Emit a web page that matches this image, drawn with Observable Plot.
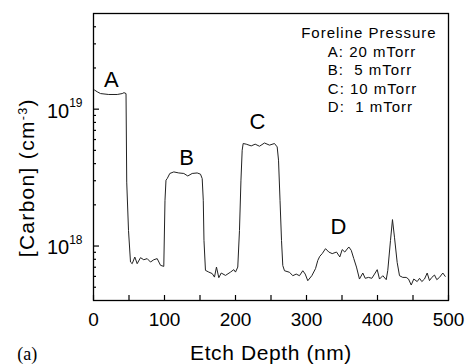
<!DOCTYPE html>
<html>
<head>
<meta charset="utf-8">
<script src="https://cdn.jsdelivr.net/npm/d3@7"></script>
<script src="https://cdn.jsdelivr.net/npm/@observablehq/plot@0.6"></script>
<style>
  html, body { margin: 0; padding: 0; background: #fff; }
  .legend text { letter-spacing: 1px; }
  .ylabel text { letter-spacing: 1.3px; }
  .xlabel text { letter-spacing: 0.6px; }
</style>
</head>
<body>
<div id="chart"></div>
<script>
// SIMS carbon depth profile: etch depth (nm) and carbon concentration (cm^-3)
const depth = [
  1.4, 5.2, 9.9, 21.5, 33.4, 40.4, 43.0, 45.8, 46.8, 49.3,
  52.1, 54.5, 58.2, 61.5, 66.2, 70.8, 75.6, 80.3, 84.9, 89.7,
  94.4, 99.0, 100.7, 102.1, 103.8, 107.5, 113.1, 120.1, 127.2, 132.8,
  139.0, 146.0, 150.7, 153.1, 154.6, 155.6, 157.7, 162.4, 167.2, 170.4,
  173.2, 176.5, 179.9, 185.9, 193.0, 197.6, 200.0, 203.2, 205.6, 207.7,
  209.4, 210.8, 215.1, 222.1, 227.7, 233.8, 240.8, 247.9, 254.9, 258.7,
  260.6, 262.7, 264.8, 266.6, 269.0, 276.1, 280.7, 285.5, 290.1, 294.8,
  298.2, 301.8, 307.5, 312.7, 315.9, 318.7, 322.1, 326.8, 331.4, 336.2,
  342.3, 346.9, 350.3, 353.9, 359.6, 363.0, 366.6, 370.4, 374.6, 379.3,
  382.7, 387.3, 392.0, 395.8, 399.6, 402.8, 407.5, 412.3, 414.5, 418.3,
  421.1, 423.9, 427.7, 431.0, 435.6, 440.4, 443.7, 447.5, 451.1, 455.9,
  459.2, 462.4, 466.2, 470.0, 473.2, 476.5, 480.3, 483.5, 487.3, 492.0,
  495.4
];
const carbon = [
  1.38e19, 1.34e19, 1.30e19, 1.28e19, 1.28e19, 1.30e19, 1.32e19, 1.30e19, 2.93e18, 1.30e18,
  7.64e17, 7.43e17, 8.31e17, 7.43e17, 8.22e17, 7.94e17, 8.09e17, 7.64e17, 7.94e17, 8.09e17,
  7.23e17, 7.10e17, 2.16e18, 3.03e18, 3.11e18, 3.39e18, 3.48e18, 3.42e18, 3.39e18, 3.25e18,
  3.39e18, 3.42e18, 3.35e18, 3.11e18, 2.16e18, 1.10e18, 6.64e17, 6.45e17, 6.29e17, 5.93e17,
  7.02e17, 5.87e17, 6.35e17, 6.10e17, 6.45e17, 6.72e17, 6.45e17, 7.02e17, 1.30e18, 3.03e18,
  5.01e18, 5.61e18, 5.55e18, 5.39e18, 5.55e18, 5.36e18, 5.66e18, 5.46e18, 5.61e18, 5.30e18,
  4.24e18, 2.16e18, 1.10e18, 7.20e17, 6.60e17, 6.43e17, 6.07e17, 6.24e17, 6.07e17, 6.60e17,
  6.24e17, 5.58e17, 6.07e17, 6.84e17, 7.85e17, 8.41e17, 8.80e17, 9.57e17, 9.04e17, 8.80e17,
  9.04e17, 8.32e17, 9.42e17, 9.04e17, 9.84e17, 9.31e17, 8.09e17, 7.02e17, 5.74e17, 6.35e17,
  5.81e17, 5.90e17, 5.81e17, 6.24e17, 6.72e17, 5.74e17, 6.07e17, 5.68e17, 6.64e17, 1.10e18,
  1.56e18, 1.16e18, 7.60e17, 6.07e17, 5.90e17, 5.90e17, 5.74e17, 5.19e17, 5.74e17, 5.50e17,
  5.81e17, 5.50e17, 5.74e17, 6.35e17, 5.59e17, 5.90e17, 6.14e17, 5.68e17, 5.90e17, 6.35e17,
  6.00e17
];

// Axis ticks
const xMajorTicks = [0, 100, 200, 300, 400, 500];
const xMinorTicks = [50, 150, 250, 350, 450];
const yMajorTicks = [1e18, 1e19];
const yMinorTicks = [5e17, 6e17, 7e17, 8e17, 9e17,
  2e18, 3e18, 4e18, 5e18, 6e18, 7e18, 8e18, 9e18,
  2e19, 3e19, 4e19];

// Layers grown at different foreline pressures
const layerNames = ["A", "B", "C", "D"];
const layerPressure = [20, 5, 10, 1]; // mTorr
const layerLabelDepth = [25, 131, 231, 345];
const layerLabelCarbon = [1.44e19, 3.94e18, 7.2e18, 1.23e18];

const legendTitle = "Foreline Pressure";
const legendRows = layerNames
  .map((n, i) => `${n}:${layerPressure[i] < 10 ? "\u00a0\u00a0" : " "}${layerPressure[i]} mTorr`)
  .join("\n");
const xLabel = "Etch Depth (nm)";
const yLabel = "[Carbon] (cm^{-3})";
const panelTag = "(a)";

const profile = depth.map((d, i) => ({depth: d, carbon: carbon[i]}));

const sans = "'Liberation Sans', Arial, Helvetica, sans-serif";

const chart = Plot.plot({
  width: 468,
  height: 364,
  marginLeft: 93,
  marginRight: 20,
  marginTop: 13,
  marginBottom: 64,
  style: {fontFamily: sans, background: "white", color: "black", overflow: "visible"},
  x: {domain: [0, 500]},
  y: {type: "log", domain: [4e17, 5e19]},
  marks: [
    // tick marks pointing into the plot
    Plot.axisX(xMajorTicks, {tickSize: -5, tickFormat: () => "", label: null, strokeWidth: 1.2}),
    Plot.axisX(xMinorTicks, {tickSize: -5, tickFormat: () => "", label: null, strokeWidth: 1.2}),
    Plot.axisY(yMajorTicks, {tickSize: -6, tickFormat: () => "", label: null, strokeWidth: 1.2}),
    Plot.axisY(yMinorTicks, {tickSize: -3, tickFormat: () => "", label: null, strokeWidth: 1.2}),
    // tick labels
    Plot.axisX(xMajorTicks, {tickSize: 0, tickPadding: 11.5, fontSize: 19, label: null, tickFormat: d => String(d)}),
    Plot.axisY(yMajorTicks, {tickSize: 0, tickPadding: 11, fontSize: 20, dy: 2, label: null,
      tickFormat: d => `10^{${Math.round(Math.log10(d))}}`}),
    Plot.frame({stroke: "black", strokeWidth: 1.3}),
    Plot.line(profile, {x: "depth", y: "carbon", stroke: "#222", strokeWidth: 1}),
    // layer letters above each plateau
    Plot.text(layerNames, {
      x: (d, i) => layerLabelDepth[i], y: (d, i) => layerLabelCarbon[i], text: d => d,
      fontSize: 22, textAnchor: "middle", lineAnchor: "bottom", fill: "black"
    }),
    // legend
    Plot.text([legendTitle], {
      text: d => d, frameAnchor: "top-left", dx: 207.7, dy: 24.3,
      textAnchor: "start", lineAnchor: "bottom", fontSize: 15, className: "legend"
    }),
    Plot.text([legendRows], {
      text: d => d, frameAnchor: "top-left", dx: 234.3, dy: 98.7, lineHeight: 18.4 / 15,
      textAnchor: "start", lineAnchor: "bottom", fontSize: 15, className: "legend"
    }),
    // axis titles
    Plot.text([xLabel], {
      text: d => d, frameAnchor: "bottom", dy: 59.3,
      textAnchor: "middle", lineAnchor: "bottom", fontSize: 21, className: "xlabel"
    }),
    Plot.text([yLabel], {
      text: d => d, frameAnchor: "left", rotate: -90, dx: -66.4, dy: 20.7,
      textAnchor: "middle", lineAnchor: "middle", fontSize: 21, className: "ylabel"
    }),
    Plot.text([panelTag], {
      text: d => d, frameAnchor: "bottom-left", dx: -76.3, dy: 59,
      textAnchor: "start", lineAnchor: "bottom", fontSize: 18,
      fontFamily: "'Liberation Serif', 'Times New Roman', serif"
    })
  ]
});

document.getElementById("chart").appendChild(chart);

// Turn "^{...}" into raised, smaller tspans
function applySuperscripts(svg) {
  const NS = "http://www.w3.org/2000/svg";
  for (const t of svg.querySelectorAll("text")) {
    const s = t.textContent;
    if (!s.includes("^{")) continue;
    const size = parseFloat(getComputedStyle(t).fontSize) || 16;
    const isTick = !!t.closest('[aria-label="y-axis tick label"]');
    const rise = (isTick ? 0.53 : 0.32) * size;
    const supSize = 0.6 * size;
    const parts = s.split(/\^\{([^}]*)\}/);
    t.textContent = "";
    let shifted = false;
    parts.forEach((p, i) => {
      if (!p) return;
      const ts = document.createElementNS(NS, "tspan");
      ts.textContent = p;
      if (i % 2) {
        ts.setAttribute("dy", -rise);
        ts.setAttribute("font-size", supSize);
        shifted = true;
      } else if (shifted) {
        ts.setAttribute("dy", rise);
        shifted = false;
      }
      t.appendChild(ts);
    });
  }
}
applySuperscripts(chart);
</script>
</body>
</html>
